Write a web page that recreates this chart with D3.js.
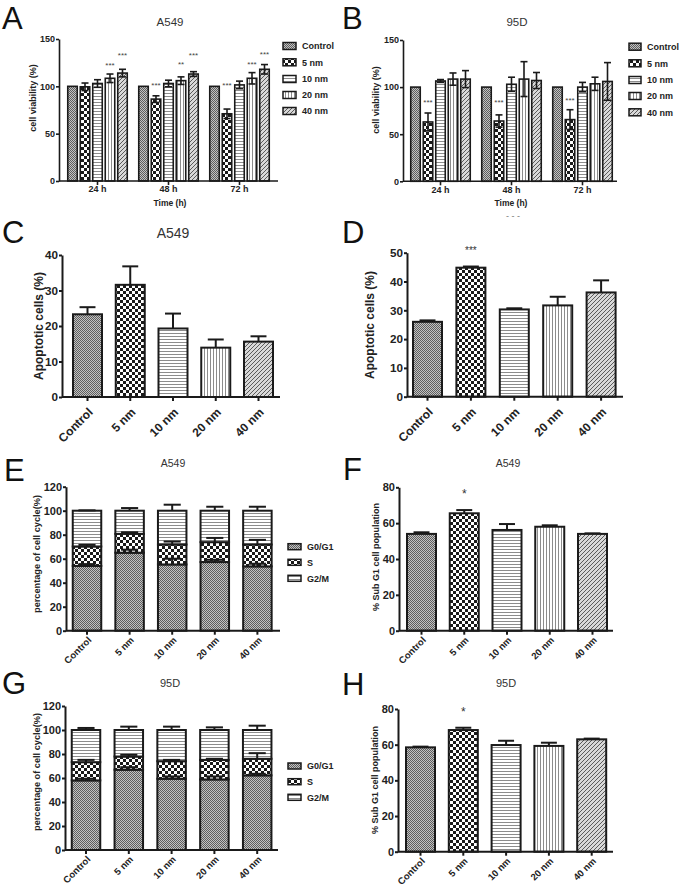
<!DOCTYPE html>
<html><head><meta charset="utf-8">
<script src="https://cdn.jsdelivr.net/npm/d3@7"></script>
<style>body{margin:0;background:#fff}svg{display:block}text{font-family:"Liberation Sans",Arial,sans-serif}</style>
</head><body><svg id="c" width="683" height="888"></svg>
<script>
// ---------------- data ----------------
const timeGroups = ["24 h","48 h","72 h"];
const treatments = ["Control","5 nm","10 nm","20 nm","40 nm"];
const phases = ["G0/G1","S","G2/M"];

const viabA549    = [[100,99.5,103,108.5,114],[100,86.5,103,106,113],[100,71,101.5,108.5,118]];
const viabA549Err = [[0,4,4,4.5,4],[0,3.5,3.5,4,2.5],[0,5,4,6,5]];
const viab95D     = [[100,63,106.5,108.5,108.5],[100,64,103,108.5,107],[100,65.5,100,103.5,106]];
const viab95DErr  = [[0,9.5,1.5,6.5,9],[0,6.5,7.5,18.5,8.5],[0,10.5,5,7,20]];
// [group index, treatment index, label, height in data units]
const starsViabA549 = [[0,3,"***",124.6],[0,4,"***",135],[1,1,"***",103.5],[1,3,"**",125.7],[1,4,"***",135],[2,1,"***",102.5],[2,3,"***",125.7],[2,4,"***",136]];
const starsViab95D  = [[0,1,"***",86],[1,1,"***",86],[2,1,"***",88]];
const viabTicks = [0,50,100,150];

const apopA549    = [23.3,31.6,19.3,13.9,15.6];
const apopA549Err = [2,5.2,4.2,2.3,1.5];
const apop95D     = [26,44.8,30.3,31.7,36.2];
const apop95DErr  = [0.5,0.4,0.4,3,4.2];
const starsApop95D = [[1,"***",51]];
const apopA549Ticks = [0,10,20,30,40];
const apop95DTicks  = [0,10,20,30,40,50];

const cycA549G0 = [54,65,55.2,57.2,53.6];
const cycA549S  = [16.2,15.7,16.6,16.6,18.2];
const cycA549G2 = [29.8,19.3,28.2,26.2,28.2];
const cycA549G0Err = [1.5,2.5,4.8,1.9,2.2];
const cycA549SErr  = [1.3,1.3,2.5,3.5,3.9];
const cycA549G2Err = [0.3,2.2,5,3.3,3.3];
const cyc95DG0 = [58,66.9,59.4,58.8,62.2];
const cyc95DS  = [15.2,11,14.6,16.3,13.8];
const cyc95DG2 = [26.8,22.1,26,24.9,24];
const cyc95DG0Err = [1.4,2.1,1.9,2.5,1.3];
const cyc95DSErr  = [1.9,1.4,1.1,0.9,4.7];
const cyc95DG2Err = [1.7,2.8,2.8,2.2,3.6];
const cycTicks = [0,20,40,60,80,100,120];

const subG1A549    = [54,65.5,56.2,58,54];
const subG1A549Err = [0.9,1.8,3.3,0.8,0.3];
const subG195D     = [58.5,68.2,59.8,59.3,63];
const subG195DErr  = [0.4,1.3,2.4,1.8,0.4];
const starsSubA549 = [[1,"*",77]];
const starsSub95D  = [[1,"*",79]];
const subTicks = [0,20,40,60,80];

// ---------------- drawing ----------------
const svg = d3.select("#c");
const defs = svg.append("defs");
const INK = "#1a1a1a";
function pat(id,w,h,bg,draw){
  const p = defs.append("pattern").attr("id",id).attr("patternUnits","userSpaceOnUse").attr("width",w).attr("height",h);
  p.append("rect").attr("width",w).attr("height",h).attr("fill",bg);
  draw(p);
}
pat("pCtrl",2,2,"#c2c2c2",p=>{p.append("rect").attr("width",1).attr("height",1).attr("fill","#5e5e5e");p.append("rect").attr("x",1).attr("y",1).attr("width",1).attr("height",1).attr("fill","#5e5e5e");});
pat("p5",6,6,"#fff",p=>{p.append("rect").attr("width",3).attr("height",3).attr("fill","#1a1a1a");p.append("rect").attr("x",3).attr("y",3).attr("width",3).attr("height",3).attr("fill","#1a1a1a");});
pat("p10",3,3,"#fff",p=>p.append("rect").attr("width",3).attr("height",1).attr("fill","#8c8c8c"));
pat("p20",3,3,"#fff",p=>p.append("rect").attr("width",1).attr("height",3).attr("fill","#8c8c8c"));
pat("p40",4,4,"#d8d8d8",p=>p.append("path").attr("d","M-1,1l2,-2M0,4l4,-4M3,5l2,-2").attr("stroke","#5a5a5a").attr("stroke-width",1));
const fills = ["url(#pCtrl)","url(#p5)","url(#p10)","url(#p20)","url(#p40)"];
const phaseFills = ["url(#pCtrl)","url(#p5)","url(#p10)"];

function letter(t,x,y){svg.append("text").attr("x",x).attr("y",y).attr("font-size",31).attr("fill","#111").text(t);}
function title(t,x,y,fs){svg.append("text").attr("x",x).attr("y",y).attr("text-anchor","middle").attr("font-size",fs).attr("fill","#333").text(t);}
function ylabel(t,x,y,fs){svg.append("text").attr("transform",`translate(${x},${y}) rotate(-90)`).attr("text-anchor","middle").attr("font-size",fs).attr("font-weight","bold").attr("fill","#222").text(t);}

function yAxis(y,ax,ticks,fs,sw){
  const g = svg.append("g").attr("transform",`translate(${ax},0)`)
    .call(d3.axisLeft(y).tickValues(ticks).tickSize(3).tickSizeOuter(0).tickPadding(1).tickFormat(d3.format("d")));
  g.selectAll("path,line").attr("stroke",INK).attr("stroke-width",sw);
  g.selectAll("text").attr("font-size",fs).attr("font-weight","bold").attr("fill","#222").attr("font-family",null);
  return g;
}
function xAxis(x,y0,ax,xEnd,sw){
  const g = svg.append("g").attr("transform",`translate(0,${y0})`)
    .call(d3.axisBottom(x).tickSize(4).tickSizeOuter(0).tickPadding(1));
  g.select(".domain").attr("d",`M${ax},0H${xEnd}`);
  g.selectAll("path,line").attr("stroke",INK).attr("stroke-width",sw);
  g.selectAll("text").attr("font-family",null).attr("font-weight","bold").attr("fill","#222");
  return g;
}
function rotLabels(g,fs,dx,dy){
  g.selectAll("text").attr("font-size",fs).attr("x",0).attr("y",0).attr("dy",null)
    .attr("text-anchor","end").attr("transform",`translate(${dx},${dy}) rotate(-45)`);
}
function errBar(g,cx,yt,yb,cw,sw){
  g.append("line").attr("x1",cx).attr("x2",cx).attr("y1",yb).attr("y2",yt).attr("stroke",INK).attr("stroke-width",sw);
  g.append("line").attr("x1",cx-cw/2).attr("x2",cx+cw/2).attr("y1",yt).attr("y2",yt).attr("stroke",INK).attr("stroke-width",sw);
}
function legend(items,pf,x,ys,w,h,fs){
  const g = svg.append("g");
  items.forEach((t,i)=>{
    g.append("rect").attr("x",x).attr("y",ys[i]-h/2).attr("width",w).attr("height",h).attr("fill",pf[i]).attr("stroke",INK).attr("stroke-width",1.5);
    g.append("text").attr("x",x+w+6).attr("y",ys[i]+3.3).attr("font-size",fs).attr("font-weight","bold").attr("fill","#222").text(items[i]);
  });
}

function grouped(o){
  const y = d3.scaleLinear().domain([0,150]).range([o.y0,o.yTop]);
  const x0 = d3.scaleBand().domain(timeGroups).range([o.c1-o.gstep/2, o.c1-o.gstep/2+timeGroups.length*o.gstep]);
  const pi = 1 - o.bw/o.bstep;
  const x1 = d3.scaleBand().domain(treatments).range([-o.bstep*2.5,o.bstep*2.5]).paddingInner(pi).paddingOuter(pi/2);
  const g = svg.append("g");
  timeGroups.forEach((tg,gi)=>{
    const cx = x0(tg)+x0.bandwidth()/2;
    treatments.forEach((t,si)=>{
      const v = o.vals[gi][si], e = o.errs[gi][si];
      const bx = cx+x1(t), mx = bx+x1.bandwidth()/2;
      g.append("rect").attr("x",bx).attr("y",y(v)).attr("width",x1.bandwidth()).attr("height",o.y0-y(v))
        .attr("fill",fills[si]).attr("stroke",INK).attr("stroke-width",1.6);
      if(e>0){
        errBar(g,mx,y(v+e),y(v-e),7,1.6);
        g.append("line").attr("x1",mx-3.5).attr("x2",mx+3.5).attr("y1",y(v-e)).attr("y2",y(v-e)).attr("stroke",INK).attr("stroke-width",1.6);
      }
    });
  });
  o.stars.forEach(s=>{
    const cx = x0(timeGroups[s[0]])+x0.bandwidth()/2 + x1(treatments[s[1]]) + x1.bandwidth()/2;
    g.append("text").attr("x",cx).attr("y",y(s[3])+4.5).attr("text-anchor","middle").attr("font-size",8).attr("fill","#444").text(s[2]);
  });
  yAxis(y,o.ax,viabTicks,9,1.6);
  const xg = xAxis(x0,o.y0,o.ax,o.xEnd,1.6);
  xg.selectAll("text").attr("font-size",9);
}

function simple(o){
  const y = d3.scaleLinear().domain([0,o.ymax]).range([o.y0,o.yTop]);
  const pi = 1 - o.bw/o.step;
  const x = d3.scaleBand().domain(treatments).range([o.c1-o.step/2,o.c1-o.step/2+treatments.length*o.step]).paddingInner(pi).paddingOuter(pi/2);
  const g = svg.append("g");
  treatments.forEach((t,i)=>{
    const v = o.vals[i], e = o.errs[i], cx = x(t)+x.bandwidth()/2;
    errBar(g,cx,y(v+e),y(v),x.bandwidth()*0.55,2);
    g.append("rect").attr("x",x(t)).attr("y",y(v)).attr("width",x.bandwidth()).attr("height",o.y0-y(v))
      .attr("fill",fills[i]).attr("stroke",INK).attr("stroke-width",2);
  });
  o.stars.forEach(s=>{
    g.append("text").attr("x",x(treatments[s[0]])+x.bandwidth()/2).attr("y",y(s[2])+o.starFs*0.45).attr("text-anchor","middle").attr("font-size",o.starFs).attr("fill","#333").text(s[1]);
  });
  yAxis(y,o.ax,o.ticks,o.tfs,2);
  const xg = xAxis(x,o.y0,o.ax,o.xEnd,2);
  rotLabels(xg,o.lfs,o.ldx,o.ldy);
}

function stacked(o){
  const y = d3.scaleLinear().domain([0,120]).range([o.y0,o.yTop]);
  const pi = 1 - o.bw/o.step;
  const x = d3.scaleBand().domain(treatments).range([o.c1-o.step/2,o.c1-o.step/2+treatments.length*o.step]).paddingInner(pi).paddingOuter(pi/2);
  const rows = treatments.map((t,i)=>({t:t,"G0/G1":o.g0[i],"S":o.s[i],"G2/M":o.g2[i]}));
  const errs = {"G0/G1":o.g0e,"S":o.se,"G2/M":o.g2e};
  const layers = d3.stack().keys(phases)(rows);
  const g = svg.append("g");
  layers.forEach((L,li)=>{
    L.forEach(d=>{
      g.append("rect").attr("x",x(d.data.t)).attr("y",y(d[1])).attr("width",x.bandwidth()).attr("height",y(d[0])-y(d[1]))
        .attr("fill",phaseFills[li]).attr("stroke",INK).attr("stroke-width",2);
    });
  });
  layers.forEach(L=>{
    L.forEach((d,i)=>{
      const cx = x(d.data.t)+x.bandwidth()/2;
      errBar(g,cx,y(d[1]+errs[L.key][i]),y(d[1]),x.bandwidth()*0.6,2);
    });
  });
  yAxis(y,o.ax,cycTicks,11,2);
  const xg = xAxis(x,o.y0,o.ax,o.xEnd,2);
  rotLabels(xg,9.5,5,10);
}

// ---- Panel A ----
letter("A",2,29);
title("A549",170,26,11.5);
grouped({vals:viabA549,errs:viabA549Err,stars:starsViabA549,y0:181,yTop:39,ax:59,xEnd:278,c1:97.5,gstep:71,bstep:12.5,bw:9.5});
ylabel("cell viability (%)",36,98,9);
svg.append("text").attr("x",170).attr("y",206).attr("text-anchor","middle").attr("font-size",8.5).attr("font-weight","bold").attr("fill","#222").text("Time (h)");
legend(treatments,fills,283,[46,62.3,79,95,111],13,7,9);

// ---- Panel B ----
letter("B",342,29);
title("95D",517,26,11.5);
grouped({vals:viab95D,errs:viab95DErr,stars:starsViab95D,y0:181.3,yTop:40,ax:403,xEnd:617,c1:440.5,gstep:71,bstep:12.5,bw:9.5});
ylabel("cell viability (%)",379,100,9);
svg.append("text").attr("x",511).attr("y",206).attr("text-anchor","middle").attr("font-size",8.5).attr("font-weight","bold").attr("fill","#222").text("Time (h)");
legend(treatments,fills,629,[46.7,63.3,80,96,112.3],12,7,9);

// ---- Panel C ----
letter("C",2,243);
title("A549",173,238,14);
simple({vals:apopA549,errs:apopA549Err,stars:[],ymax:40,y0:397,yTop:255,ax:62,xEnd:280,c1:87.5,step:42.75,bw:29,ticks:apopA549Ticks,tfs:11.7,lfs:12,ldx:6,ldy:16,starFs:10});
ylabel("Apoptotic cells (%)",43,326,12);

// ---- Panel D ----
letter("D",342,243);
svg.append("text").attr("x",513).attr("y",219).attr("text-anchor","middle").attr("font-size",9).attr("fill","#777").text("- - -");
simple({vals:apop95D,errs:apop95DErr,stars:starsApop95D,ymax:50,y0:396.7,yTop:252.7,ax:407,xEnd:623,c1:427.5,step:43.4,bw:29,ticks:apop95DTicks,tfs:11.7,lfs:12,ldx:6,ldy:16,starFs:10});
ylabel("Apoptotic cells (%)",374,325,12);

// ---- Panel E ----
letter("E",4,481);
title("A549",173,467,10.5);
stacked({g0:cycA549G0,s:cycA549S,g2:cycA549G2,g0e:cycA549G0Err,se:cycA549SErr,g2e:cycA549G2Err,y0:630.7,yTop:486.7,ax:66,xEnd:280,c1:87,step:42.6,bw:28.5});
ylabel("percentage of cell cycle(%)",40,554,9.2);
legend(phases,phaseFills,288,[546.7,562.3,578.3],13,6,9);

// ---- Panel F ----
letter("F",343,480);
title("A549",508,467,10.5);
simple({vals:subG1A549,errs:subG1A549Err,stars:starsSubA549,ymax:80,y0:630.7,yTop:487.3,ax:399,xEnd:613,c1:421.5,step:42.75,bw:29,ticks:subTicks,tfs:11,lfs:9.5,ldx:5,ldy:10,starFs:12});
ylabel("% Sub G1 cell population",379,557,9);

// ---- Panel G ----
letter("G",2,694);
title("95D",170,687,11);
stacked({g0:cyc95DG0,s:cyc95DS,g2:cyc95DG2,g0e:cyc95DG0Err,se:cyc95DSErr,g2e:cyc95DG2Err,y0:850,yTop:706,ax:65,xEnd:278,c1:86,step:42.8,bw:28.5});
ylabel("percentage of cell cycle(%)",40,772,9.2);
legend(phases,phaseFills,288,[766,781.7,797.3],13,6,9);

// ---- Panel H ----
letter("H",342,695);
title("95D",506,687,11);
simple({vals:subG195D,errs:subG195DErr,stars:starsSub95D,ymax:80,y0:851.7,yTop:709,ax:398,xEnd:613,c1:420.5,step:42.8,bw:29,ticks:subTicks,tfs:11,lfs:9.5,ldx:5,ldy:10,starFs:12});
ylabel("% Sub G1 cell population",378,780,9);
</script></body></html>
